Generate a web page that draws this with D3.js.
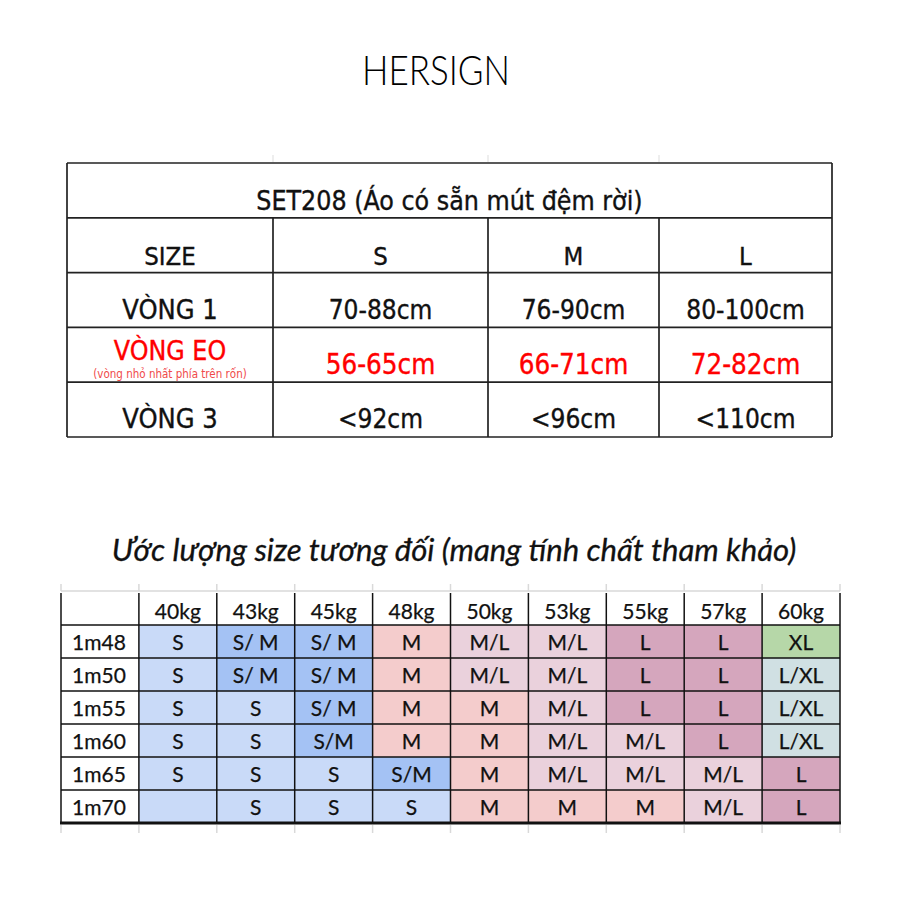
<!DOCTYPE html>
<html>
<head>
<meta charset="utf-8">
<script src="https://cdn.jsdelivr.net/npm/d3@7"></script>
<style>
  html, body { margin: 0; padding: 0; background: #fff; }
</style>
</head>
<body>
<script>
const WIDTH = 900;
const HEIGHT = 900;

// ---- top table data ----
const TITLE = 'SET208 (Áo có sẵn mút đệm rời)';
const SIZES = ['S', 'M', 'L'];
const MEASURES = ['VÒNG 1', 'VÒNG EO', 'VÒNG 3'];
const VONG1 = ['70-88cm', '76-90cm', '80-100cm'];
const VONGEO = ['56-65cm', '66-71cm', '72-82cm'];
const VONG3 = ['<92cm', '<96cm', '<110cm'];
const EO_NOTE = '(vòng nhỏ nhất phía trên rốn)';

// ---- bottom table data ----
const SUBTITLE = 'Ước lượng size tương đối (mang tính chất tham khảo)';
const WEIGHTS = ['40kg', '43kg', '45kg', '48kg', '50kg', '53kg', '55kg', '57kg', '60kg'];
const HEIGHTS = ['1m48', '1m50', '1m55', '1m60', '1m65', '1m70'];
const FIT = [
  ['S', 'S/ M', 'S/ M', 'M', 'M/L', 'M/L', 'L', 'L', 'XL'],
  ['S', 'S/ M', 'S/ M', 'M', 'M/L', 'M/L', 'L', 'L', 'L/XL'],
  ['S', 'S', 'S/ M', 'M', 'M', 'M/L', 'L', 'L', 'L/XL'],
  ['S', 'S', 'S/M', 'M', 'M', 'M/L', 'M/L', 'L', 'L/XL'],
  ['S', 'S', 'S', 'S/M', 'M', 'M/L', 'M/L', 'M/L', 'L'],
  ['', 'S', 'S', 'S', 'M', 'M', 'M', 'M/L', 'L']
];
const FIT_CLASSES = ['S', 'S/M', 'M', 'M/L', 'L', 'L/XL', 'XL'];

const fitColor = d3.scaleOrdinal()
  .domain(FIT_CLASSES)
  .range(['#c9daf8', '#a4c2f4', '#f4cccc', '#ead1dc', '#d5a6bd', '#d0e0e3', '#b6d7a8']);

const svg = d3.select('body')
  .append('svg')
  .attr('width', WIDTH)
  .attr('height', HEIGHT);

// logo
svg.append('text')
  .attr('x', 436)
  .attr('y', 85)
  .attr('text-anchor', 'middle')
  .attr('font-family', 'Lato, "Open Sans", sans-serif')
  .attr('font-weight', 300)
  .attr('font-size', 42)
  .attr('textLength', 148)
  .attr('lengthAdjust', 'spacingAndGlyphs')
  .attr('fill', '#000')
  .text('HERSIGN');

// ================= top table =================
const TOP_FONT = '"DejaVu Sans Condensed", "DejaVu Sans", sans-serif';
const colEdges = [67, 273, 488, 659, 832];
const topRows = ['title', 'SIZE'].concat(MEASURES);
const yTop = d3.scaleBand().domain(topRows).range([163, 437]);
const colMid = i => (colEdges[i] + colEdges[i + 1]) / 2;

const sizeTable = svg.append('g')
  .attr('font-family', TOP_FONT)
  .attr('fill', '#111')
  .attr('stroke', '#111')
  .attr('stroke-width', 0.35);

const lineTop = svg.append('g')
  .attr('stroke', '#222')
  .attr('stroke-width', 1.7);

// horizontal rules
lineTop.selectAll('line.h')
  .data(topRows.map(r => yTop(r)).concat([yTop.range()[1]]))
  .join('line')
  .attr('x1', colEdges[0]).attr('x2', colEdges[4])
  .attr('y1', d => d).attr('y2', d => d);

// outer verticals
lineTop.append('g').selectAll('line')
  .data([colEdges[0], colEdges[4]])
  .join('line')
  .attr('x1', d => d).attr('x2', d => d)
  .attr('y1', yTop.range()[0]).attr('y2', yTop.range()[1]);

// inner verticals (title row is merged)
lineTop.append('g').selectAll('line')
  .data(colEdges.slice(1, 4))
  .join('line')
  .attr('x1', d => d).attr('x2', d => d)
  .attr('y1', yTop('SIZE')).attr('y2', yTop.range()[1]);

// faint sheet gridlines above the table
svg.append('g')
  .attr('stroke', '#ddd')
  .selectAll('line')
  .data(colEdges.slice(1, 4))
  .join('line')
  .attr('x1', d => d).attr('x2', d => d)
  .attr('y1', 155).attr('y2', 162);

const rowBase = r => yTop(r) + yTop.bandwidth() - 8;

sizeTable.append('text')
  .attr('x', (colEdges[0] + colEdges[4]) / 2)
  .attr('y', rowBase('title'))
  .attr('text-anchor', 'middle')
  .attr('font-size', 26.5)
  .text(TITLE);

sizeTable.append('text')
  .attr('x', colMid(0))
  .attr('y', rowBase('SIZE'))
  .attr('text-anchor', 'middle')
  .attr('font-size', 25.5)
  .text('SIZE');

sizeTable.append('g').selectAll('text')
  .data(SIZES)
  .join('text')
  .attr('x', (d, i) => colMid(i + 1))
  .attr('y', rowBase('SIZE'))
  .attr('text-anchor', 'middle')
  .attr('font-size', 25.5)
  .text(d => d);

// row labels
sizeTable.append('text')
  .attr('x', colMid(0)).attr('y', rowBase('VÒNG 1'))
  .attr('text-anchor', 'middle').attr('font-size', 27)
  .text(MEASURES[0]);

sizeTable.append('text')
  .attr('x', colMid(0)).attr('y', yTop('VÒNG EO') + yTop.bandwidth() - 22)
  .attr('text-anchor', 'middle').attr('font-size', 26.5)
  .attr('fill', '#ff0000').attr('stroke', '#ff0000')
  .text(MEASURES[1]);

sizeTable.append('text')
  .attr('x', colMid(0)).attr('y', yTop('VÒNG EO') + yTop.bandwidth() - 4)
  .attr('text-anchor', 'middle').attr('font-size', 11.5)
  .attr('fill', '#f04a4a').attr('stroke', 'none')
  .text(EO_NOTE);

sizeTable.append('text')
  .attr('x', colMid(0)).attr('y', rowBase('VÒNG 3') - 1)
  .attr('text-anchor', 'middle').attr('font-size', 27)
  .text(MEASURES[2]);

const valueRows = [
  { key: 'VÒNG 1', vals: VONG1, color: '#111', size: 26 },
  { key: 'VÒNG EO', vals: VONGEO, color: '#ff0000', size: 27.5 },
  { key: 'VÒNG 3', vals: VONG3, color: '#111', size: 26 }
];

valueRows.forEach(row => {
  sizeTable.append('g').selectAll('text')
    .data(row.vals)
    .join('text')
    .attr('x', (d, i) => colMid(i + 1))
    .attr('y', rowBase(row.key) - (row.key === 'VÒNG 3' ? 1 : 0))
    .attr('text-anchor', 'middle')
    .attr('font-size', row.size)
    .attr('fill', row.color)
    .attr('stroke', row.color)
    .text(d => d);
});

// ================= subtitle =================
const sub = svg.append('text')
  .attr('x', 454)
  .attr('y', 561)
  .attr('text-anchor', 'middle')
  .attr('font-family', 'Lato, "Open Sans", sans-serif')
  .attr('font-style', 'italic')
  .attr('font-size', 28)
  .attr('fill', '#111')
  .attr('stroke', '#111')
  .attr('stroke-width', 0.3)
  .text(SUBTITLE);
const subLen = sub.node().getComputedTextLength();
sub.attr('font-size', 28 * 685 / subLen);

// ================= bottom table =================
const BOT_FONT = 'Lato, "Open Sans", sans-serif';
const xBot = d3.scaleBand().domain(['label'].concat(WEIGHTS)).range([61, 840]);
const yBot = d3.scaleBand().domain(['head'].concat(HEIGHTS)).range([592, 823]);

const bot = svg.append('g');

const cells = HEIGHTS.flatMap((h, r) => WEIGHTS.map((w, c) => ({ h, w, v: FIT[r][c] })));

bot.append('g').selectAll('rect')
  .data(cells)
  .join('rect')
  .attr('x', d => xBot(d.w))
  .attr('y', d => yBot(d.h))
  .attr('width', xBot.bandwidth())
  .attr('height', yBot.bandwidth())
  // blank 1m70/40kg cell is shaded like S
  .attr('fill', d => fitColor(d.v.replace(/\s/g, '') || 'S'));

const botText = bot.append('g')
  .attr('font-family', BOT_FONT)
  .attr('font-size', 21)
  .attr('fill', '#111')
  .attr('stroke', '#111')
  .attr('stroke-width', 0.25);

botText.append('g').selectAll('text')
  .data(cells)
  .join('text')
  .attr('x', d => xBot(d.w) + xBot.bandwidth() / 2)
  .attr('y', d => yBot(d.h) + yBot.bandwidth() - 8)
  .attr('text-anchor', 'middle')
  .text(d => d.v);

botText.append('g').selectAll('text')
  .data(WEIGHTS)
  .join('text')
  .attr('x', d => xBot(d) + xBot.bandwidth() / 2)
  .attr('y', yBot('head') + yBot.bandwidth() - 6)
  .attr('text-anchor', 'middle')
  .text(d => d);

botText.append('g').selectAll('text')
  .data(HEIGHTS)
  .join('text')
  .attr('x', xBot('label') + 11)
  .attr('y', d => yBot(d) + yBot.bandwidth() - 8)
  .text(d => d);

const colLines = xBot.domain().map(d => xBot(d)).concat([xBot.range()[1]]);

// faint sheet gridlines
const faint = svg.append('g').attr('stroke', '#d9d9d9').attr('stroke-width', 1.5);
faint.append('line')
  .attr('x1', xBot.range()[0]).attr('x2', xBot.range()[1])
  .attr('y1', 591).attr('y2', 591);
faint.append('g').selectAll('line')
  .data(colLines)
  .join('line')
  .attr('x1', d => d).attr('x2', d => d)
  .attr('y1', 584).attr('y2', 591);
faint.append('g').selectAll('line')
  .data(colLines)
  .join('line')
  .attr('x1', d => d).attr('x2', d => d)
  .attr('y1', 825).attr('y2', 833);

const grid = svg.append('g').attr('stroke', '#111').attr('stroke-width', 1.5);

grid.append('g').selectAll('line')
  .data(colLines)
  .join('line')
  .attr('x1', d => d).attr('x2', d => d)
  .attr('y1', 593).attr('y2', yBot.range()[1]);

grid.append('g').selectAll('line')
  .data(HEIGHTS.map(h => yBot(h)))
  .join('line')
  .attr('x1', xBot.range()[0]).attr('x2', xBot.range()[1])
  .attr('y1', d => d).attr('y2', d => d);

grid.append('line')
  .attr('x1', xBot.range()[0] - 1).attr('x2', xBot.range()[1] + 1)
  .attr('y1', yBot.range()[1]).attr('y2', yBot.range()[1])
  .attr('stroke-width', 3);
</script>
</body>
</html>
